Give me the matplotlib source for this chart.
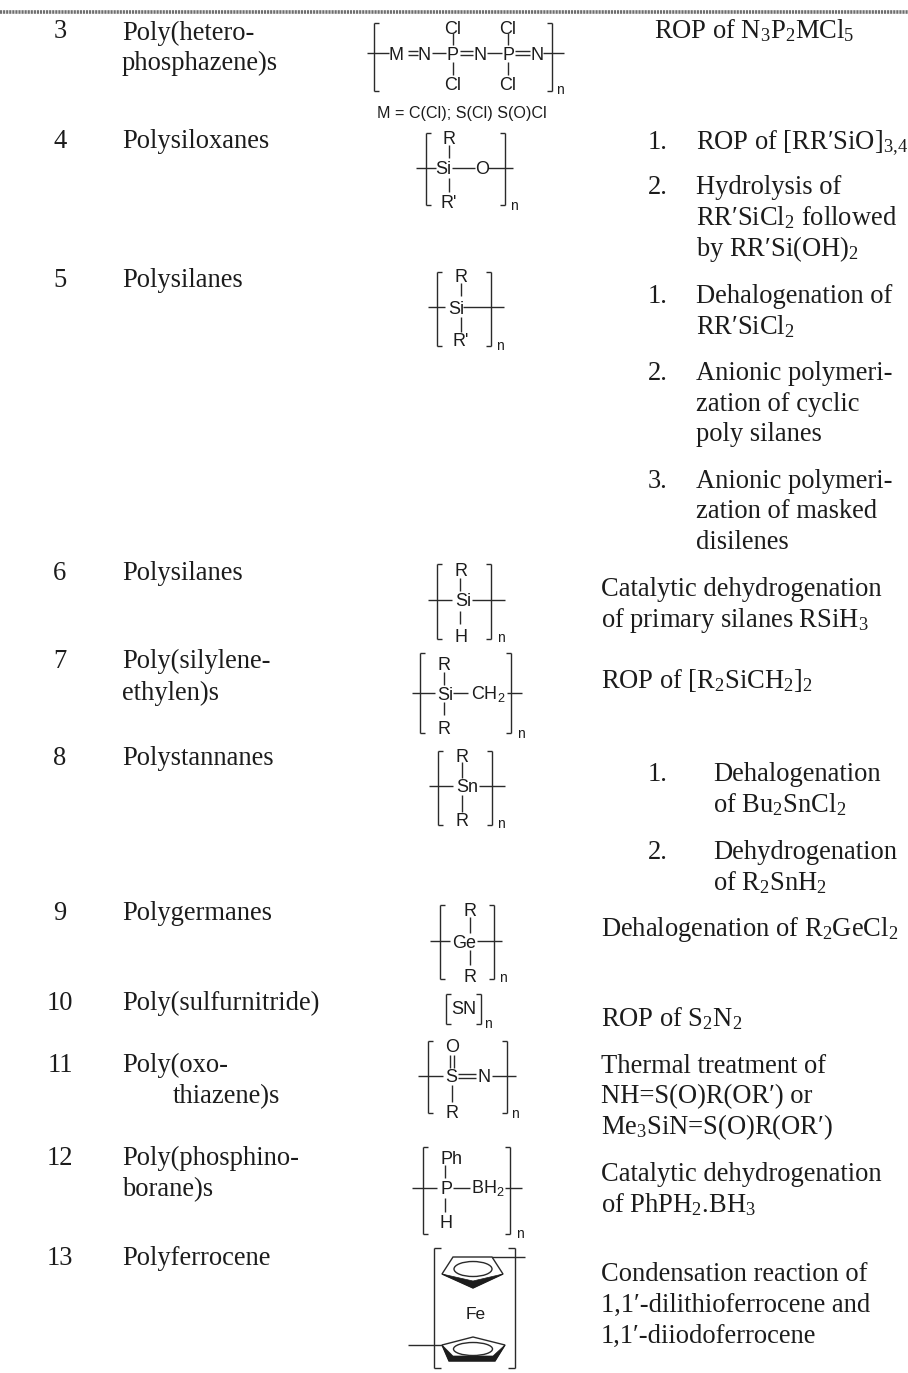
import matplotlib
matplotlib.use('Agg')
import matplotlib.pyplot as plt
from matplotlib.patches import Ellipse, Polygon

plt.rcParams['font.family'] = ['Liberation Serif', 'DejaVu Serif']
plt.rcParams['mathtext.fontset'] = 'custom'
plt.rcParams['mathtext.rm'] = 'Liberation Serif'
plt.rcParams['mathtext.sf'] = 'Liberation Sans'
plt.rcParams['mathtext.default'] = 'rm'

INK = '#1c1c1c'
SERIF_SIZE = 19.1
SANS_SIZE = 11.6
ATOM_SIZE = 13

# Table text: (number, y)
row_numbers = [('3', 30), ('4', 140), ('5', 279), ('6', 572), ('7', 660), ('8', 757),
               ('9', 912), ('10', 1002), ('11', 1064), ('12', 1157), ('13', 1257)]

# Polymer names: (text, x, y)
polymer_names = [
    ('Poly(hetero-', 122, 32), ('phosphazene)s', 122, 62),
    ('Polysiloxanes', 122, 140), ('Polysilanes', 122, 279), ('Polysilanes', 122, 572),
    ('Poly(silylene-', 122, 660), ('ethylen)s', 122, 692), ('Polystannanes', 122, 757),
    ('Polygermanes', 122, 912), ('Poly(sulfurnitride)', 122, 1002),
    ('Poly(oxo-', 122, 1064), ('thiazene)s', 173, 1095),
    ('Poly(phosphino-', 122, 1157), ('borane)s', 122, 1188), ('Polyferrocene', 122, 1257),
]

# Synthesis column: (text, x, y)
methods = [
    ('ROP of N$_3$P$_2$MCl$_5$', 654, 30),
    ('1.', 648, 141), ('ROP of [RR\u2032SiO]$_{3{,}4}$', 696, 141),
    ('2.', 648, 186), ('Hydrolysis of', 696, 186),
    ('RR\u2032SiCl$_2$ followed', 696, 217), ('by RR\u2032Si(OH)$_2$', 696, 248),
    ('1.', 648, 295), ('Dehalogenation of', 696, 295), ('RR\u2032SiCl$_2$', 696, 326),
    ('2.', 648, 372), ('Anionic polymeri-', 696, 372),
    ('zation of cyclic', 696, 403), ('poly silanes', 696, 433),
    ('3.', 648, 480), ('Anionic polymeri-', 696, 480),
    ('zation of masked', 696, 510), ('disilenes', 696, 541),
    ('Catalytic dehydrogenation', 601, 588), ('of primary silanes RSiH$_3$', 601, 619),
    ('ROP of [R$_2$SiCH$_2$]$_2$', 601, 680),
    ('1.', 648, 773), ('Dehalogenation', 713, 773), ('of Bu$_2$SnCl$_2$', 713, 804),
    ('2.', 648, 851), ('Dehydrogenation', 713, 851), ('of R$_2$SnH$_2$', 713, 882),
    ('Dehalogenation of R$_2$GeCl$_2$', 601, 928),
    ('ROP of S$_2$N$_2$', 601, 1018),
    ('Thermal treatment of', 601, 1065), ('NH=S(O)R(OR\u2032) or', 601, 1095),
    ('Me$_3$SiN=S(O)R(OR\u2032)', 601, 1126),
    ('Catalytic dehydrogenation', 601, 1173), ('of PhPH$_2$.BH$_3$', 601, 1204),
    ('Condensation reaction of', 601, 1273), ('1,1\u2032-dilithioferrocene and', 601, 1304),
    ('1,1\u2032-diiodoferrocene', 601, 1335),
]

# Structures: brackets (left x, right x, top y, bottom y), atoms, bonds (x0, y0, x1, y1), n label
structures = [
    {'brackets': (374, 552, 23, 91), 'n': (560, 89),
     'atoms': [('M', 396, 53), ('N', 424, 53), ('P', 453, 53), ('N', 480, 53), ('P', 508, 53), ('N', 537, 53),
               ('Cl', 453, 27), ('Cl', 508, 27), ('Cl', 453, 83), ('Cl', 508, 83)],
     'bonds': [(367, 53, 389, 53), (432, 53, 446, 53), (487, 53, 502, 53), (543, 53, 564, 53),
               (453, 33, 453, 45), (508, 33, 508, 45), (453, 62, 453, 75), (508, 62, 508, 75)],
     'double': [(408, 53, 418, 53), (460, 53, 473, 53), (515, 53, 530, 53)]},
    {'brackets': (426, 505, 133, 205), 'n': (514, 205),
     'atoms': [('Si', 443, 168), ('O', 482, 168), ('R', 449, 137), ("R'", 449, 202)],
     'bonds': [(416, 168, 436, 168), (452, 168, 475, 168), (488, 168, 513, 168),
               (449, 145, 449, 158), (449, 178, 449, 192)]},
    {'brackets': (437, 491, 272, 346), 'n': (500, 344),
     'atoms': [('Si', 456, 307), ('R', 461, 276), ("R'", 461, 340)],
     'bonds': [(428, 307, 445, 307), (463, 307, 504, 307), (461, 283, 461, 296), (461, 317, 461, 332)]},
    {'brackets': (437, 491, 564, 639), 'n': (501, 637),
     'atoms': [('Si', 463, 600), ('R', 461, 569), ('H', 461, 635)],
     'bonds': [(428, 600, 452, 600), (472, 600, 505, 600), (460, 578, 460, 591), (460, 611, 460, 624)]},
    {'brackets': (420, 511, 653, 733), 'n': (521, 733),
     'atoms': [('Si', 445, 693), (r'$\mathsf{CH_2}$', 488, 691), ('R', 444, 663), ('R', 444, 727)],
     'bonds': [(412, 693, 435, 693), (453, 693, 468, 693), (507, 693, 522, 693),
               (444, 672, 444, 685), (444, 702, 444, 715)]},
    {'brackets': (438, 492, 751, 825), 'n': (501, 823),
     'atoms': [('Sn', 467, 786), ('R', 462, 755), ('R', 462, 820)],
     'bonds': [(429, 786, 453, 786), (479, 786, 505, 786), (462, 762, 462, 778), (462, 795, 462, 812)]},
    {'brackets': (440, 494, 905, 979), 'n': (503, 977),
     'atoms': [('Ge', 464, 941), ('R', 470, 910), ('R', 470, 975)],
     'bonds': [(430, 941, 450, 941), (477, 941, 502, 941), (470, 917, 470, 933), (470, 950, 470, 965)]},
    {'brackets': (446, 481, 994, 1024), 'n': (488, 1023), 'atoms': [('SN', 464, 1008)], 'bonds': []},
    {'brackets': (428, 507, 1041, 1113), 'n': (515, 1113),
     'atoms': [('S', 451, 1076), ('N', 484, 1076), ('O', 452, 1046), ('R', 452, 1111)],
     'bonds': [(418, 1076, 443, 1076), (492, 1076, 516, 1076), (452, 1085, 452, 1102)],
     'double': [(458, 1076, 476, 1076)], 'double_v': [(452, 1055, 452, 1068)]},
    {'brackets': (423, 510, 1147, 1234), 'n': (520, 1233),
     'atoms': [('P', 446, 1188), (r'$\mathsf{BH_2}$', 488, 1186), ('Ph', 451, 1158), ('H', 446, 1222)],
     'bonds': [(412, 1188, 437, 1188), (453, 1188, 470, 1188), (505, 1188, 522, 1188),
               (445, 1165, 445, 1178), (445, 1198, 445, 1212)]},
]

# Ferrocene rings
top_ring = [(453, 1257), (492, 1257), (503, 1274), (473, 1288), (442, 1274)]
top_shade = [(442, 1274), (473, 1288), (503, 1274), (473, 1281)]
bottom_ring = [(442, 1345), (473, 1337), (505, 1345), (495, 1361), (449, 1361)]
bottom_shade = [(442, 1345), (449, 1361), (495, 1361), (505, 1345), (493, 1356), (453, 1356)]

fig = plt.figure(figsize=(9.08, 13.73), dpi=100)
ax = fig.add_axes([0, 0, 1, 1])
ax.set_xlim(0, 908)
ax.set_ylim(1373, 0)
ax.axis('off')


def serif(text, x, y, ha='left'):
    ax.text(x, y + 8, text, fontsize=SERIF_SIZE, color=INK, ha=ha, va='baseline')


def sans(text, x, y, size=ATOM_SIZE):
    ax.text(x, y, text, fontsize=size, color=INK, family='Liberation Sans',
            ha='center', va='center_baseline')


def line(x0, y0, x1, y1, lw=1.0):
    ax.plot([x0, x1], [y0, y1], color='#2a2a2a', lw=lw, solid_capstyle='butt')


def brackets(left, right, top, bottom, serif_len=5):
    line(left + serif_len, top, left, top)
    line(left, top, left, bottom)
    line(left, bottom, left + serif_len, bottom)
    line(right - serif_len, top, right, top)
    line(right, top, right, bottom)
    line(right, bottom, right - serif_len, bottom)


# hatched rule at the top
ax.plot([0, 908], [12, 12], color='#6e6e6e', lw=2.6, ls=(0, (0.6, 0.25)), solid_capstyle='butt')

for number, y in row_numbers:
    serif(number, 60, y, ha='center')
for text, x, y in polymer_names:
    serif(text, x, y)
for text, x, y in methods:
    serif(text, x, y)

for s in structures:
    brackets(*s['brackets'])
    for text, x, y in s['atoms']:
        sans(text, x, y)
    for x0, y0, x1, y1 in s['bonds']:
        line(x0, y0, x1, y1)
    for x0, y0, x1, y1 in s.get('double', []):
        line(x0, y0 - 1.6, x1, y1 - 1.6)
        line(x0, y0 + 1.6, x1, y1 + 1.6)
    for x0, y0, x1, y1 in s.get('double_v', []):
        line(x0 - 2, y0, x1 - 2, y1)
        line(x0 + 2, y0, x1 + 2, y1)
    sans('n', *s['n'], size=10)

sans('M = C(Cl); S(Cl) S(O)Cl', 462, 112, size=SANS_SIZE)

# polyferrocene
brackets(434, 515, 1248, 1368, serif_len=7)
line(492, 1257, 525, 1257)
line(408, 1345, 442, 1345)
ax.add_patch(Polygon(top_ring, closed=True, fill=False, ec='#2a2a2a', lw=1.0))
ax.add_patch(Polygon(top_shade, closed=True, fc='#1c1c1c', ec='#1c1c1c', lw=0.5))
ax.add_patch(Ellipse((473, 1269), 38, 15, fill=False, ec='#2a2a2a', lw=1.0))
ax.add_patch(Polygon(bottom_ring, closed=True, fill=False, ec='#2a2a2a', lw=1.0))
ax.add_patch(Polygon(bottom_shade, closed=True, fc='#1c1c1c', ec='#1c1c1c', lw=0.5))
ax.add_patch(Ellipse((473, 1349), 39, 13, fill=False, ec='#2a2a2a', lw=1.0))
sans('Fe', 476, 1313, size=12.5)

fig.savefig('out.png', dpi=100)
